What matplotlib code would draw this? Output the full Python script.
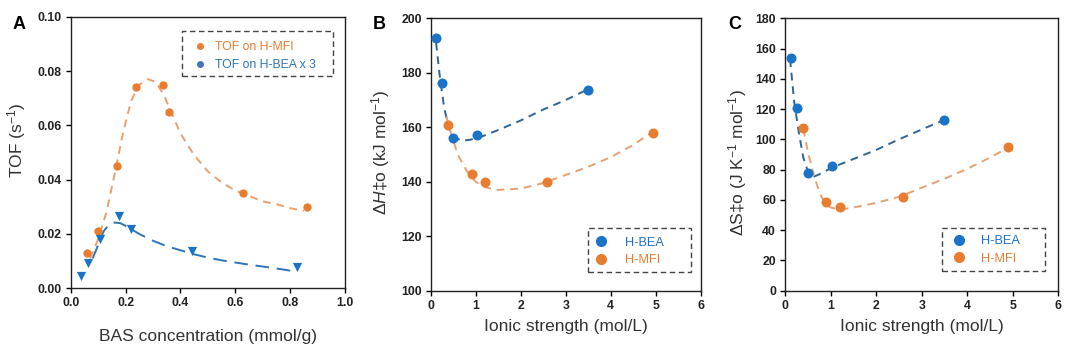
import numpy as np
import matplotlib
matplotlib.use("Agg")
import matplotlib.pyplot as plt
from matplotlib.lines import Line2D
from matplotlib.patches import Rectangle

plt.rcParams['font.family'] = ['Liberation Sans', 'DejaVu Sans']
plt.rcParams['mathtext.fontset'] = 'custom'
plt.rcParams['mathtext.rm'] = 'Liberation Sans'
plt.rcParams['mathtext.it'] = 'Liberation Sans:italic'

ORANGE = '#E87D2F'
BLUE = '#1A73C6'

# --- panel A: TOF vs BAS concentration
mfi_bas = [0.06, 0.10, 0.168, 0.237, 0.338, 0.36, 0.627, 0.863]
mfi_tof = [0.013, 0.021, 0.045, 0.074, 0.075, 0.065, 0.035, 0.030]
bea_bas = [0.036, 0.064, 0.107, 0.177, 0.219, 0.441, 0.824]
bea_tof = [0.0045, 0.0094, 0.018, 0.0266, 0.022, 0.0138, 0.008]

# fitted trend lines
mfi_fit_x = [0.07, 0.10, 0.13, 0.16, 0.19, 0.22, 0.25, 0.28, 0.31, 0.34, 0.37, 0.40,
             0.45, 0.50, 0.55, 0.60, 0.65, 0.70, 0.75, 0.80, 0.85]
mfi_fit_y = [0.011, 0.018, 0.028, 0.042, 0.057, 0.069, 0.075, 0.077, 0.076, 0.071, 0.064, 0.057,
             0.049, 0.043, 0.039, 0.036, 0.034, 0.032, 0.031, 0.0295, 0.0285]
bea_fit_x = [0.08, 0.10, 0.12, 0.14, 0.16, 0.18, 0.20, 0.25, 0.30, 0.35, 0.40, 0.45,
             0.50, 0.55, 0.60, 0.65, 0.70, 0.75, 0.80]
bea_fit_y = [0.011, 0.016, 0.021, 0.0235, 0.0242, 0.024, 0.023, 0.020, 0.0175, 0.0155, 0.014, 0.0125,
             0.0113, 0.0103, 0.0095, 0.0087, 0.008, 0.0073, 0.0065]

# --- panel B/C: activation parameters vs ionic strength
bea_ion = [0.12, 0.26, 0.50, 1.03, 3.49]
bea_dH = [192.7, 176.2, 156.0, 157.0, 173.7]
bea_dS = [153.5, 121.0, 78.0, 82.6, 113.0]
mfi_ion_h = [0.39, 0.91, 1.21, 2.59, 4.93]
mfi_dH = [161.0, 143.0, 140.0, 140.0, 158.0]
mfi_ion_s = [0.40, 0.90, 1.21, 2.58, 4.90]
mfi_dS = [107.7, 58.8, 55.5, 62.0, 94.7]

bea_h_fit_x = [0.12, 0.20, 0.30, 0.40, 0.50, 0.70, 0.90, 1.20, 1.50, 2.00, 2.50, 3.00, 3.50]
bea_h_fit_y = [191.0, 179.0, 167.0, 160.0, 156.5, 155.0, 155.5, 157.0, 159.0, 162.5, 166.5, 170.0, 174.0]
mfi_h_fit_x = [0.35, 0.40, 0.60, 0.80, 1.00, 1.20, 1.50, 2.00, 2.50, 3.00, 3.50, 4.00, 4.50, 4.90]
mfi_h_fit_y = [164.0, 160.5, 150.0, 144.0, 140.0, 138.0, 137.0, 137.5, 139.5, 142.5, 145.5, 149.0, 153.5, 158.0]

bea_s_fit_x = [0.11, 0.20, 0.30, 0.40, 0.50, 0.60, 0.80, 1.00, 1.50, 2.00, 2.50, 3.00, 3.50]
bea_s_fit_y = [153.0, 125.0, 105.0, 88.0, 79.0, 75.0, 77.5, 81.0, 87.0, 93.0, 100.0, 106.5, 113.0]
mfi_s_fit_x = [0.40, 0.50, 0.60, 0.70, 0.80, 0.90, 1.00, 1.20, 1.50, 2.00, 2.50, 3.00, 3.50, 4.00, 4.50, 4.90]
mfi_s_fit_y = [107.0, 92.0, 80.0, 70.0, 62.0, 57.0, 55.0, 53.5, 55.0, 58.0, 62.0, 68.0, 74.0, 80.5, 88.0, 94.5]

fig = plt.figure(figsize=(10.8, 3.46), dpi=100)
axA = fig.add_axes([0.0655, 0.1668, 0.2540, 0.7849])
axB = fig.add_axes([0.3988, 0.1598, 0.2500, 0.7873])
axC = fig.add_axes([0.7269, 0.1598, 0.2530, 0.7873])

LABEL_KW = dict(fontsize=12.5, color='#333333')


def style(ax):
    for s in ax.spines.values():
        s.set_linewidth(1.0)
        s.set_color('#222222')
    ax.tick_params(direction='out', length=3.5, width=1.0, labelsize=8.8, pad=3,
                   top=False, right=False, labelcolor='#222222')
    for lab in ax.get_xticklabels() + ax.get_yticklabels():
        lab.set_fontweight('bold')


def dashed_legend(ax, handles, labels, colors, box, anchor, fontsize, hlen, textpad, spacing):
    # legend entries without frame, dashed box drawn around them
    leg = ax.legend(handles, labels, frameon=False, loc='upper left', bbox_to_anchor=anchor,
                    borderpad=0, borderaxespad=0, handlelength=hlen, handletextpad=textpad,
                    labelspacing=spacing, fontsize=fontsize)
    for t, c in zip(leg.get_texts(), colors):
        t.set_color(c)
    x0, y0, x1, y1 = box
    ax.add_patch(Rectangle((x0, y0), x1 - x0, y1 - y0, transform=ax.transAxes, fill=False,
                           ls=(0, (4, 2.5)), ec='#444444', lw=1.0, zorder=5, clip_on=False))
    return leg


# panel A
axA.plot(mfi_fit_x, mfi_fit_y, ls=(0, (4, 3)), color='#E8A070', lw=1.4, zorder=2)
axA.plot(bea_fit_x, bea_fit_y, ls=(0, (7, 4)), color='#2E75B6', lw=1.4, zorder=2)
axA.scatter(mfi_bas, mfi_tof, s=36, color=ORANGE, zorder=3, linewidths=0)
axA.scatter(bea_bas, bea_tof, s=44, marker='v', color=BLUE, zorder=3, linewidths=0)
axA.set_xlim(0, 1.0)
axA.set_ylim(0, 0.10)
axA.set_xticks(np.arange(0, 1.01, 0.2))
axA.set_yticks(np.arange(0, 0.101, 0.02))
axA.xaxis.set_major_formatter(matplotlib.ticker.FormatStrFormatter('%.1f'))
axA.yaxis.set_major_formatter(matplotlib.ticker.FormatStrFormatter('%.2f'))
axA.set_xlabel('BAS concentration (mmol/g)', **LABEL_KW)
axA.set_ylabel('TOF (s$^{-1}$)', **LABEL_KW)
axA.xaxis.set_label_coords(0.5, -0.15)
axA.yaxis.set_label_coords(-0.155, 0.546)
style(axA)
hA = [Line2D([], [], ls='', marker='o', ms=4, color=ORANGE),
      Line2D([], [], ls='', marker='o', ms=4, color='#4472C4')]
dashed_legend(axA, hA, ['TOF on H-MFI', 'TOF on H-BEA x 3'], [ORANGE, '#2E75B6'],
              box=(0.406, 0.782, 0.956, 0.947), anchor=(0.453, 0.911),
              fontsize=8.8, hlen=0.8, textpad=0.85, spacing=0.52)
fig.text(0.012, 0.916, 'A', fontsize=13, fontweight='bold', va='baseline')

# panel B
axB.plot(bea_h_fit_x, bea_h_fit_y, ls=(0, (4, 3)), color='#2F6496', lw=1.4, zorder=2)
axB.plot(mfi_h_fit_x, mfi_h_fit_y, ls=(0, (4, 3)), color='#E8A070', lw=1.4, zorder=2)
axB.scatter(bea_ion, bea_dH, s=52, color=BLUE, zorder=3, linewidths=0)
axB.scatter(mfi_ion_h, mfi_dH, s=52, color=ORANGE, zorder=3, linewidths=0)
axB.set_xlim(0, 6)
axB.set_ylim(100, 200)
axB.set_xticks(range(0, 7))
axB.set_yticks(range(100, 201, 20))
axB.set_xlabel('Ionic strength (mol/L)', **LABEL_KW)
axB.set_ylabel(r'$\Delta\mathit{H}$‡o (kJ mol$^{-1}$)', **LABEL_KW)
axB.xaxis.set_label_coords(0.5, -0.105)
axB.yaxis.set_label_coords(-0.145, 0.51)
style(axB)
hB = [Line2D([], [], ls='', marker='o', ms=7, color=BLUE),
      Line2D([], [], ls='', marker='o', ms=7, color=ORANGE)]
dashed_legend(axB, hB, ['H-BEA', 'H-MFI'], [BLUE, ORANGE],
              box=(0.583, 0.069, 0.964, 0.230), anchor=(0.607, 0.199),
              fontsize=9.2, hlen=1.0, textpad=1.4, spacing=0.45)
fig.text(0.345, 0.916, 'B', fontsize=13, fontweight='bold', va='baseline')

# panel C
axC.plot(bea_s_fit_x, bea_s_fit_y, ls=(0, (4, 3)), color='#2F6496', lw=1.4, zorder=2)
axC.plot(mfi_s_fit_x, mfi_s_fit_y, ls=(0, (4, 3)), color='#E8A070', lw=1.4, zorder=2)
axC.scatter(bea_ion, bea_dS, s=52, color=BLUE, zorder=3, linewidths=0)
axC.scatter(mfi_ion_s, mfi_dS, s=52, color=ORANGE, zorder=3, linewidths=0)
axC.set_xlim(0, 6)
axC.set_ylim(0, 180)
axC.set_xticks(range(0, 7))
axC.set_yticks(range(0, 181, 20))
axC.set_xlabel('Ionic strength (mol/L)', **LABEL_KW)
axC.set_ylabel(r'$\Delta$S‡o (J K$^{-1}$ mol$^{-1}$)', **LABEL_KW)
axC.xaxis.set_label_coords(0.5, -0.105)
axC.yaxis.set_label_coords(-0.133, 0.472)
style(axC)
dashed_legend(axC, hB, ['H-BEA', 'H-MFI'], [BLUE, ORANGE],
              box=(0.574, 0.073, 0.952, 0.231), anchor=(0.614, 0.204),
              fontsize=9.2, hlen=1.0, textpad=1.2, spacing=0.45)
fig.text(0.6744, 0.916, 'C', fontsize=13, fontweight='bold', va='baseline')

fig.savefig('out.png', dpi=100)
